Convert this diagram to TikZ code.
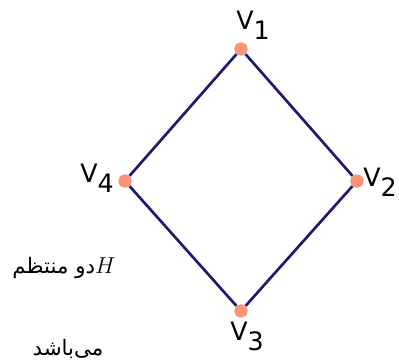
\documentclass[tikz,border=0pt]{standalone}
\usepackage{fontspec}
\setmainfont{DejaVu Sans}
\newfontfamily\arabicfont[Script=Arabic]{DejaVu Sans}
\TeXXeTstate=1
\usetikzlibrary{positioning}

\definecolor{edgecol}{RGB}{30,25,110}
\definecolor{vtxcol}{RGB}{250,148,120}

\newcommand{\vname}[1]{V\raisebox{-0.4em}{#1}}

\begin{document}
\begin{tikzpicture}[
    x=0.75pt, y=-0.75pt,
    vertex/.style={circle, fill=vtxcol, inner sep=0pt, minimum size=10pt},
    vlabel/.style={inner sep=0pt, font=\fontsize{19}{19}\selectfont},
    edge/.style={draw=edgecol, line width=2pt},
    note/.style={inner sep=0pt, font=\fontsize{16}{19}\arabicfont}
]
\useasboundingbox (0,0) rectangle (399,362);

% vertices
\node[vertex] (v1) at (241,49)  {};
\node[vertex] (v2) at (357,181) {};
\node[vertex] (v3) at (241,311) {};
\node[vertex] (v4) at (125,181) {};

% edges of the cycle
\draw[edge] (v1) -- (v2);
\draw[edge] (v2) -- (v3);
\draw[edge] (v3) -- (v4);
\draw[edge] (v4) -- (v1);

% vertex names
\node[vlabel] (l1) at (253,25)  {\vname{1}};
\node[vlabel] (l2) at (380,182) {\vname{2}};
\node[vlabel] (l3) at (247,336) {\vname{3}};
\node[vlabel] (l4) at (97,178)  {\vname{4}};

% caption
\node[note] (t1) at (64,268) {\beginR $H$دو منتظم\endR};
\node[note] (t2) at (68,349) {\beginR می‌باشد\endR};

\end{tikzpicture}
\end{document}
